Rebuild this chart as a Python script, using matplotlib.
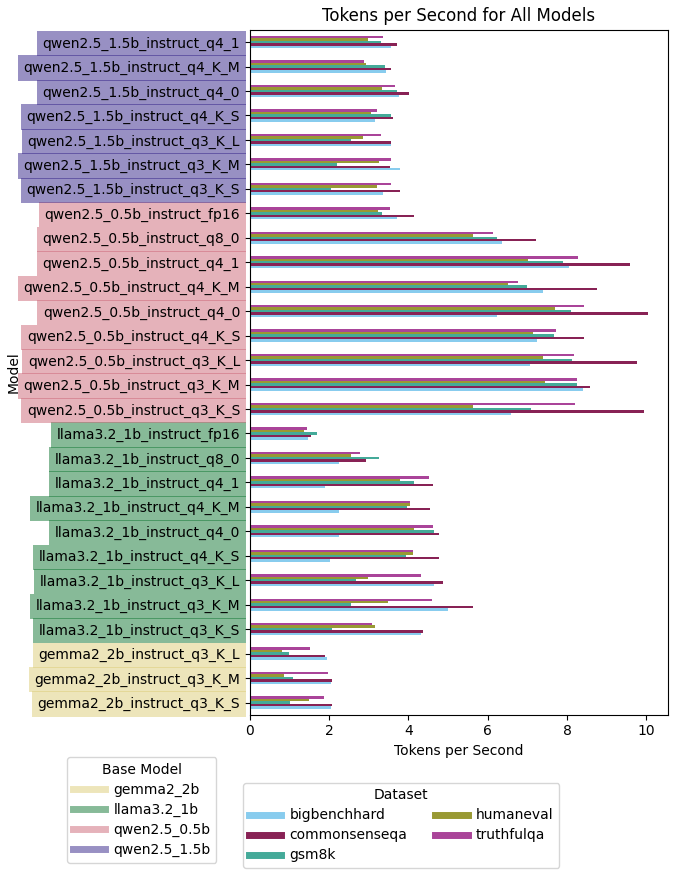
import pandas as pd
import matplotlib
matplotlib.use('Agg')
import matplotlib.pyplot as plt
from matplotlib.lines import Line2D

# modèles, du bas vers le haut
models = [
    'gemma2_2b_instruct_q3_K_S', 'gemma2_2b_instruct_q3_K_M', 'gemma2_2b_instruct_q3_K_L',
    'llama3.2_1b_instruct_q3_K_S', 'llama3.2_1b_instruct_q3_K_M', 'llama3.2_1b_instruct_q3_K_L',
    'llama3.2_1b_instruct_q4_K_S', 'llama3.2_1b_instruct_q4_0', 'llama3.2_1b_instruct_q4_K_M',
    'llama3.2_1b_instruct_q4_1', 'llama3.2_1b_instruct_q8_0', 'llama3.2_1b_instruct_fp16',
    'qwen2.5_0.5b_instruct_q3_K_S', 'qwen2.5_0.5b_instruct_q3_K_M', 'qwen2.5_0.5b_instruct_q3_K_L',
    'qwen2.5_0.5b_instruct_q4_K_S', 'qwen2.5_0.5b_instruct_q4_0', 'qwen2.5_0.5b_instruct_q4_K_M',
    'qwen2.5_0.5b_instruct_q4_1', 'qwen2.5_0.5b_instruct_q8_0', 'qwen2.5_0.5b_instruct_fp16',
    'qwen2.5_1.5b_instruct_q3_K_S', 'qwen2.5_1.5b_instruct_q3_K_M', 'qwen2.5_1.5b_instruct_q3_K_L',
    'qwen2.5_1.5b_instruct_q4_K_S', 'qwen2.5_1.5b_instruct_q4_0', 'qwen2.5_1.5b_instruct_q4_K_M',
    'qwen2.5_1.5b_instruct_q4_1',
]

bigbenchhard = [2.05, 2.05, 1.94, 4.31, 4.99, 4.64, 2.01, 2.24, 2.26, 1.90, 2.26, 1.47,
                6.58, 8.40, 7.07, 7.25, 6.23, 7.39, 8.05, 6.36, 3.72,
                3.35, 3.80, 3.56, 3.15, 3.77, 3.43, 3.56]
commonsenseqa = [2.06, 2.07, 1.89, 4.37, 5.62, 4.86, 4.78, 4.77, 4.55, 4.63, 2.94, 1.54,
                 9.94, 8.58, 9.77, 8.42, 10.05, 8.75, 9.58, 7.22, 4.13,
                 3.79, 3.53, 3.57, 3.61, 4.01, 3.55, 3.70]
gsm8k = [1.02, 1.08, 0.99, 2.08, 2.54, 2.69, 3.93, 4.64, 3.96, 4.15, 3.25, 1.70,
         7.10, 8.26, 8.13, 7.67, 8.10, 6.98, 7.89, 6.23, 3.34,
         2.05, 2.19, 2.54, 3.56, 3.71, 3.40, 3.30]
humaneval = [1.50, 0.86, 0.82, 3.15, 3.48, 2.99, 4.11, 4.14, 4.03, 3.78, 2.54, 1.36,
             5.63, 7.45, 7.39, 7.14, 7.71, 6.52, 7.01, 5.63, 3.23,
             3.20, 3.25, 2.85, 3.06, 3.33, 2.93, 2.97]
truthfulqa = [1.88, 1.96, 1.52, 3.07, 4.59, 4.31, 4.12, 4.62, 4.03, 4.51, 2.78, 1.45,
              8.20, 8.25, 8.17, 7.72, 8.42, 6.76, 8.27, 6.13, 3.53,
              3.57, 3.56, 3.31, 3.20, 3.66, 2.88, 3.37]

base_models = ['gemma2_2b', 'llama3.2_1b', 'qwen2.5_0.5b', 'qwen2.5_1.5b']
base_colors = ['#DDCC77', '#117733', '#CC6677', '#332288']
dataset_colors = ['#88CCEE', '#882255', '#44AA99', '#999933', '#AA4499']

df = pd.DataFrame({
    'bigbenchhard': bigbenchhard,
    'commonsenseqa': commonsenseqa,
    'gsm8k': gsm8k,
    'humaneval': humaneval,
    'truthfulqa': truthfulqa,
}, index=models)

fig = plt.figure(figsize=(6.79, 8.77), dpi=100)
ax = fig.add_axes([0.368, 0.185, 0.616, 0.781])
df.plot.barh(ax=ax, color=dataset_colors, legend=False)

ax.set_title('Tokens per Second for All Models', fontsize=12)
ax.set_xlabel('Tokens per Second')
ax.set_ylabel('Model', labelpad=2)

# fond coloré des étiquettes selon le modèle de base
for label in ax.get_yticklabels():
    name = label.get_text()
    for base, col in zip(base_models, base_colors):
        if name.startswith(base + '_'):
            label.set_bbox(dict(facecolor=col, alpha=0.5, edgecolor='none', pad=4))

leg_opts = dict(handlelength=2.35, handletextpad=0.6, labelspacing=0.43, loc='upper left')
leg1 = fig.legend(handles=[Line2D([0], [0], color=c, alpha=0.5, lw=5) for c in base_colors],
                  labels=base_models, title='Base Model',
                  bbox_to_anchor=(0.0884, 0.1448), **leg_opts)
leg2 = fig.legend(handles=[Line2D([0], [0], color=c, lw=5) for c in dataset_colors],
                  labels=list(df.columns), title='Dataset', ncol=2,
                  bbox_to_anchor=(0.3476, 0.1152), **leg_opts)

fig.savefig('out.png', dpi=100)
